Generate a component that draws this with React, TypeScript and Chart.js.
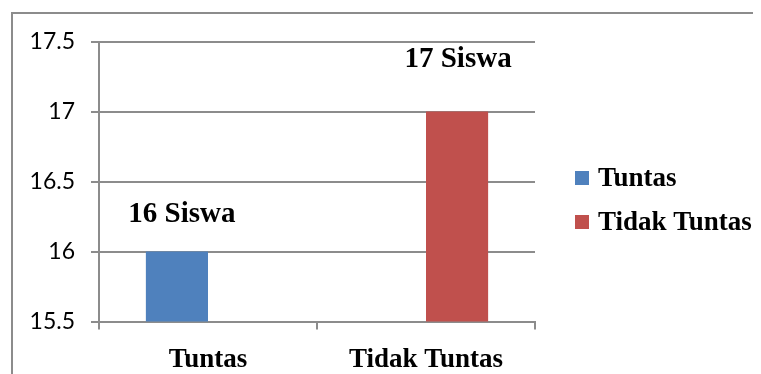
import React, { useEffect, useRef } from "react";
import { Chart, registerables } from "chart.js";

Chart.register(...registerables);

// Categories and values
const categories = ["Tuntas", "Tidak Tuntas"];
const seriesNames = ["Tuntas", "Tidak Tuntas"];
const tuntasValues = [16, null];
const tidakTuntasValues = [null, 17];
const valueLabels = ["16 Siswa", "17 Siswa"];
const seriesColors = ["#4F81BD", "#C0504D"];
const yMin = 15.5;
const yMax = 17.5;
const yStep = 0.5;

const GRID = "#8c8c8c";
const SERIF = "'Liberation Serif', 'Times New Roman', serif";

// Writes "16 Siswa" / "17 Siswa" above each bar
const valueLabelPlugin = {
  id: "valueLabels",
  afterDatasetsDraw(chart: any, _args: any, opts: any) {
    const ctx = chart.ctx;
    ctx.save();
    ctx.font = `bold ${opts.size}px ${SERIF}`;
    ctx.fillStyle = "#000";
    ctx.textAlign = "center";
    ctx.textBaseline = "alphabetic";
    chart.data.datasets.forEach((ds: any, di: number) => {
      const meta = chart.getDatasetMeta(di);
      ds.data.forEach((v: any, i: number) => {
        if (v == null) return;
        const el = meta.data[i];
        ctx.fillText(valueLabels[i], el.x + opts.dx[i], el.y - opts.lift[i]);
      });
    });
    ctx.restore();
  },
};

// Legend column to the right of the plot
const sideLegendPlugin = {
  id: "sideLegend",
  afterDraw(chart: any, _args: any, opts: any) {
    const ctx = chart.ctx;
    const area = chart.chartArea;
    ctx.save();
    ctx.font = `bold ${opts.size}px ${SERIF}`;
    ctx.textAlign = "left";
    ctx.textBaseline = "middle";
    chart.data.datasets.forEach((ds: any, i: number) => {
      const x = area.right + opts.gap;
      const y = opts.top + i * opts.spacing;
      ctx.fillStyle = ds.backgroundColor;
      ctx.fillRect(x, y - opts.box / 2, opts.box, opts.box);
      ctx.fillStyle = "#000";
      ctx.fillText(ds.label, x + opts.box + opts.textGap, y + 1);
    });
    ctx.restore();
  },
};

export default function App() {
  const ref = useRef<HTMLCanvasElement | null>(null);

  useEffect(() => {
    if (!ref.current) return;
    const chart = new Chart(ref.current, {
      type: "bar",
      data: {
        labels: categories,
        datasets: [
          { label: seriesNames[0], data: tuntasValues, backgroundColor: seriesColors[0] },
          { label: seriesNames[1], data: tidakTuntasValues, backgroundColor: seriesColors[1] },
        ],
      },
      options: {
        animation: false,
        responsive: false,
        devicePixelRatio: 1,
        locale: "en-US",
        categoryPercentage: 0.57,
        barPercentage: 1,
        layout: { padding: { left: 0, top: 33.5, right: 226, bottom: 0 } },
        plugins: {
          legend: { display: false },
          tooltip: { enabled: false },
          valueLabels: { size: 29, lift: [30, 45], dx: [5, 1] },
          sideLegend: { size: 27, gap: 40, top: 170, spacing: 44, box: 14, textGap: 9 },
        } as any,
        scales: {
          x: {
            grid: {
              offset: true,
              drawOnChartArea: false,
              drawTicks: true,
              tickLength: 8,
              color: GRID,
              lineWidth: 2,
            },
            border: { color: GRID, width: 2 },
            ticks: {
              color: "#000",
              padding: 14,
              font: { family: SERIF, size: 27, weight: "bold" },
            },
            afterFit(scale: any) {
              scale.height = 52.5;
            },
          },
          y: {
            min: yMin,
            max: yMax,
            ticks: {
              stepSize: yStep,
              color: "#000",
              padding: 16,
              font: { family: "Lato, 'Liberation Sans', sans-serif", size: 23 },
              callback: (v: any) => String(Number(v)),
            },
            grid: { color: GRID, lineWidth: 2, tickLength: 8 },
            border: { color: GRID, width: 2 },
            afterFit(scale: any) {
              scale.width = 91;
            },
          },
        },
      },
      plugins: [valueLabelPlugin, sideLegendPlugin],
    });
    return () => chart.destroy();
  }, []);

  return (
    <div style={{ position: "relative", width: 753, height: 366, overflow: "hidden", background: "#fff" }}>
      <div
        style={{
          position: "absolute",
          left: 3,
          top: 4,
          width: 900,
          height: 500,
          borderLeft: "2px solid #8c8c8c",
          borderTop: "2px solid #8c8c8c",
        }}
      />
      <canvas ref={ref} width={753} height={366} style={{ position: "absolute", left: 0, top: 0 }} />
    </div>
  );
}
